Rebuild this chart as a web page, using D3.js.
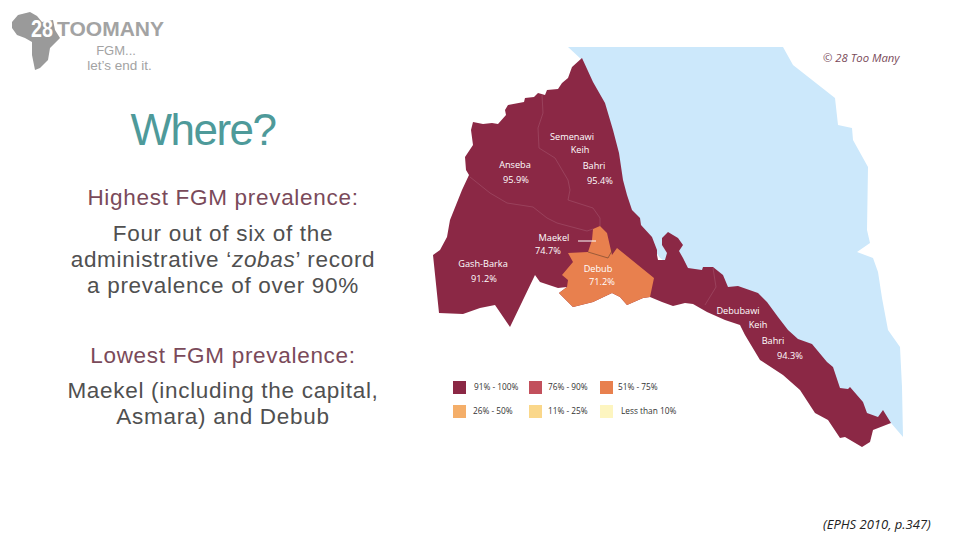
<!DOCTYPE html>
<html>
<head>
<meta charset="utf-8">
<script src="https://cdn.jsdelivr.net/npm/d3@7"></script>
<style>
  html, body { margin: 0; background: #fff; }
  svg { display: block; }
  text { font-family: "Liberation Sans", Arial, sans-serif; }
</style>
</head>
<body>
<div id="graph"></div>
<script>
// outlines, in map units
var coast = [[582,58],[593,82],[605,103],[613,130],[619,153],[623,180],[627,195],[632,210],[640,218],[641,225],[652,237],[657,250],[657,255],[658,260],[665,260],[667,253],[662,245],[662,238],[668,232],[678,238],[683,245],[679,251],[683,258],[688,268],[702,270],[703,267],[713,267],[723,275],[728,287],[738,286],[758,293],[767,302],[778,317],[788,330],[798,339],[812,344],[827,362],[833,367],[840,388],[848,389],[850,387],[863,402],[867,413],[878,417],[883,410],[891,423],[873,430],[870,442],[862,447],[845,437],[840,438],[828,420],[815,413],[800,390],[783,375],[760,360],[745,335],[740,325],[725,320],[707,312],[693,304],[685,303],[673,306],[662,302],[650,297],[643,298],[627,305],[620,297],[612,293],[593,302],[573,307],[559,293],[567,287],[558,288],[540,282],[535,275],[510,327],[495,305],[480,308],[463,314],[439,313],[433,255],[440,250],[447,237],[450,220],[462,190],[469,175],[466,170],[465,157],[473,145],[471,130],[473,122],[483,124],[492,123],[498,124],[506,115],[505,110],[508,105],[524,102],[525,98],[534,97],[538,93],[545,95],[547,90],[558,89],[562,83],[568,78],[572,67]]
var sea = [[568,47],[783,47],[793,65],[835,98],[838,125],[852,128],[853,140],[868,167],[867,230],[870,243],[857,252],[873,258],[878,272],[882,298],[888,330],[900,347],[902,387],[903,437],[891,423],[870,425],[810,370],[760,320],[700,285],[660,258],[630,215],[600,100],[582,60]]
var orange = [[600,226],[593,229],[592,240],[588,252],[568,253],[573,262],[562,275],[568,280],[567,287],[559,293],[573,307],[593,302],[612,293],[620,297],[627,305],[643,298],[650,297],[654,278],[617,248],[612,255],[607,233]]
var borders = [
  [[542,95],[543,113],[538,128],[539,148],[555,158],[568,180],[570,190],[568,200],[593,208],[600,218],[600,226]],
  [[470,177],[490,193],[507,203],[533,207],[547,218],[557,223],[587,231],[593,229]],
  [[713,268],[716,287],[705,305]]
]
var divider = [[588,252],[608,258],[613,249]]
var africa = [[12,22],[18,15],[30,12],[37,16],[42,22],[53,20],[55,30],[60,38],[50,48],[48,60],[40,68],[35,70],[32,55],[32,42],[25,38],[17,35],[12,28]]

var zobas = ['Anseba', 'Semenawi Keih Bahri', 'Gash-Barka', 'Maekel', 'Debub', 'Debubawi Keih Bahri']
var prevalence = [95.9, 95.4, 91.2, 74.7, 71.2, 94.3]
var legendBreaks = [10, 25, 50, 75, 90]
var legendColors = ['#fdf5c0', '#fad78a', '#f4ae69', '#e8804e', '#c2505c', '#8b2845']
var legendLabels = ['Less than 10%', '11% - 25%', '26% - 50%', '51% - 75%', '76% - 90%', '91% - 100%']

var width = 960, height = 540
var svg = d3.select('#graph').append('svg').attr('width', width).attr('height', height)

var xMap = d3.scaleLinear().domain([0, 960]).range([0, width])
var yMap = d3.scaleLinear().domain([0, 540]).range([0, height])
var line = d3.line().x(function(d){ return xMap(d[0]) }).y(function(d){ return yMap(d[1]) })
var shape = function(pts){ return line(pts) + 'Z' }
var color = d3.scaleThreshold().domain(legendBreaks).range(legendColors)

// logo
svg.append('path').attr('d', shape(africa)).attr('fill', '#9a9a9a')
svg.append('text').text('28')
    .attr('x', 31).attr('y', 37).attr('textLength', 22).attr('lengthAdjust', 'spacingAndGlyphs')
    .attr('font-size', 23).attr('font-weight', 'bold').attr('fill', '#fff')
svg.append('text').text('TOOMANY')
    .attr('x', 57).attr('y', 35.5).attr('textLength', 107).attr('lengthAdjust', 'spacingAndGlyphs')
    .attr('font-size', 20).attr('font-weight', 'bold').attr('fill', '#a3a3a3')
svg.append('text').text('FGM...')
    .attr('x', 116).attr('y', 55).attr('text-anchor', 'middle')
    .attr('font-size', 13).attr('fill', '#a3a3a3')
svg.append('text').text('let\u2019s end it.')
    .attr('x', 119.5).attr('y', 70).attr('text-anchor', 'middle')
    .attr('font-size', 13.5).attr('fill', '#a3a3a3')

// left column
var heading = [['Where?', 203, 145, 44, '#4e9a9a']]
var bodyLines = [
  ['Highest FGM prevalence:', 223, 205, '#7a4a5a'],
  ['Four out of six of the', 223, 241, '#505050'],
  ['a prevalence of over 90%', 223, 293, '#505050'],
  ['Lowest FGM prevalence:', 223, 363, '#7a4a5a'],
  ['Maekel (including the capital,', 223, 398, '#505050'],
  ['Asmara) and Debub', 223, 424, '#505050']
]
svg.selectAll('text.heading').data(heading).enter().append('text').attr('class', 'heading')
    .text(function(d){ return d[0] })
    .attr('x', function(d){ return d[1] }).attr('y', function(d){ return d[2] })
    .attr('font-size', function(d){ return d[3] }).attr('fill', function(d){ return d[4] })
    .attr('text-anchor', 'middle').attr('letter-spacing', -1.5)
svg.selectAll('text.bodyline').data(bodyLines).enter().append('text').attr('class', 'bodyline')
    .text(function(d){ return d[0] })
    .attr('x', function(d){ return d[1] }).attr('y', function(d){ return d[2] })
    .attr('fill', function(d){ return d[3] })
    .attr('text-anchor', 'middle').attr('font-size', 22.5).attr('letter-spacing', 0.7)
var mixed = svg.append('text').attr('x', 223).attr('y', 267).attr('text-anchor', 'middle')
    .attr('font-size', 22.5).attr('letter-spacing', 0.7).attr('fill', '#505050')
mixed.append('tspan').text('administrative \u2018')
mixed.append('tspan').text('zobas').attr('font-style', 'italic')
mixed.append('tspan').text('\u2019 record')

// map
svg.append('path').attr('d', shape(sea)).attr('fill', '#cce8fb')
svg.append('path').attr('d', shape(coast)).attr('fill', color(prevalence[0]))
svg.append('path').attr('d', shape(orange)).attr('fill', color(prevalence[4]))
svg.append('path').attr('d', line(divider)).attr('fill', 'none')
    .attr('stroke', '#7a4a30').attr('stroke-width', 0.7)
svg.selectAll('path.border').data(borders).enter().append('path').attr('class', 'border')
    .attr('d', line).attr('fill', 'none').attr('stroke', '#a85a72').attr('stroke-width', 0.5)
svg.append('path').attr('d', line([[578,241],[596,241]])).attr('stroke', '#fff').attr('stroke-width', 1)

var labelLines = [['Anseba'], ['Semenawi', 'Keih', 'Bahri'], ['Gash-Barka'], ['Maekel'], ['Debub'], ['Debubawi', 'Keih', 'Bahri']]
// each line is [x, baseline], the last entry places the value
var labelPos = [
  [[515,168],[516,183]],
  [[572,140],[580,153],[594,169],[600,184]],
  [[483,267],[484,282]],
  [[554,241],[548,254]],
  [[598,272],[602,285]],
  [[738,314],[758,328],[773,344],[790,359]]
]
zobas.forEach(function(name, i){
  var pos = labelPos[i]
  var rows = labelLines[i].concat([prevalence[i].toFixed(1) + '%'])
  rows.forEach(function(t, j){
    svg.append('text').text(t)
        .attr('x', xMap(pos[j][0])).attr('y', yMap(pos[j][1]))
        .attr('text-anchor', 'middle').attr('fill', '#fff')
        .style('font-family', '"Open Sans", sans-serif')
        .attr('font-size', 9.2).attr('font-weight', 500)
  })
})

// legend: colours in the order they appear on the page
var legendOrder = [5, 4, 3, 2, 1, 0]
var legendX = [453, 529, 600]
var legendTextX = [474, 548, 618, 473, 548, 621]
var legendY = [381, 405]
var lg = svg.selectAll('g.legend').data(legendOrder).enter().append('g').attr('class', 'legend')
lg.append('rect')
    .attr('x', function(d, i){ return legendX[i % 3] })
    .attr('y', function(d, i){ return legendY[Math.floor(i / 3)] })
    .attr('width', 13).attr('height', 13)
    .attr('fill', function(d){ return legendColors[d] })
lg.append('text').text(function(d){ return legendLabels[d] })
    .attr('x', function(d, i){ return legendTextX[i] })
    .attr('y', function(d, i){ return legendY[Math.floor(i / 3)] + 9 })
    .style('font-family', '"Open Sans", sans-serif')
    .attr('font-size', 8.3).attr('font-weight', 500).attr('fill', '#333')

// credits
svg.append('text').text('\u00a9 28 Too Many')
    .attr('x', 823).attr('y', 62).attr('font-size', 11.3).attr('font-style', 'italic')
    .style('font-family', '"Open Sans", sans-serif').attr('fill', '#7a4a5a')
svg.append('text').text('(EPHS 2010, p.347)')
    .attr('x', 823).attr('y', 529).attr('font-size', 13).attr('font-style', 'italic')
    .style('font-family', '"Open Sans", sans-serif').attr('fill', '#222')
</script>
</body>
</html>
